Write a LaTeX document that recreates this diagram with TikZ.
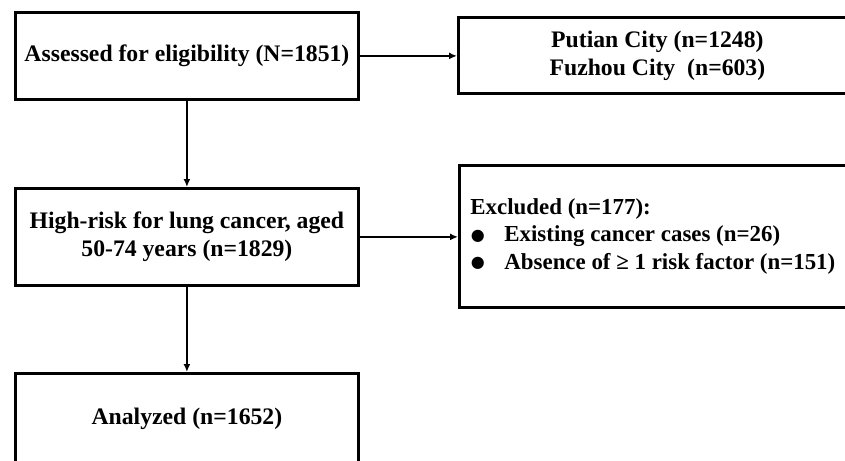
\documentclass[tikz,border=0pt]{standalone}
\usepackage{fontspec}
\setmainfont{Liberation Serif}
\newfontfamily\symfont{DejaVu Sans}
\usetikzlibrary{arrows.meta}
\newcommand{\bulitem}{\makebox[34pt][l]{\hspace{0.5pt}\raisebox{1.5pt}{\symfont\fontsize{16}{16}\selectfont ●}}}
\begin{document}
\begin{tikzpicture}[x=1pt,y=-1pt,
  box/.style={draw=black, line width=2.8pt, fill=white, inner sep=0pt,
    font=\fontsize{23.7}{28}\selectfont\bfseries},
  conn/.style={line width=1.8pt, -{Latex[length=8pt,width=7pt]}}]
\useasboundingbox (0,0) rectangle (845,460);
\clip (0,0) rectangle (845,460);
\node[box, anchor=north west, minimum width=343pt, minimum height=87pt] (a) at (14,11) {Assessed for eligibility (N=1851)};
\node[box, anchor=north west, minimum width=343pt, minimum height=97pt, align=center] (b) at (14,187) {High-risk for lung cancer, aged\\50-74 years (n=1829)};
\node[box, anchor=north west, minimum width=343pt, minimum height=91pt] (c) at (14,372) {Analyzed (n=1652)};
\node[box, anchor=north west, minimum width=398pt, minimum height=76pt, align=center] (p) at (457,16) {Putian City (n=1248)\\Fuzhou City\ \ (n=603)};
\node[box, anchor=north west, minimum height=142pt, inner xsep=11pt, text width=420pt, align=flush left, font=\fontsize{22.9}{27.5}\selectfont\bfseries] (e) at (458,164) {Excluded (n=177):\\\bulitem Existing cancer cases (n=26)\\\bulitem Absence of ≥ 1 risk factor (n=151)};
\draw[conn] (a) -- (b);
\draw[conn] (b) -- (c);
\draw[conn] (a.east) -- (p.west |- a.east);
\draw[conn] (b.east) -- (e.west |- b.east);
\end{tikzpicture}
\end{document}
